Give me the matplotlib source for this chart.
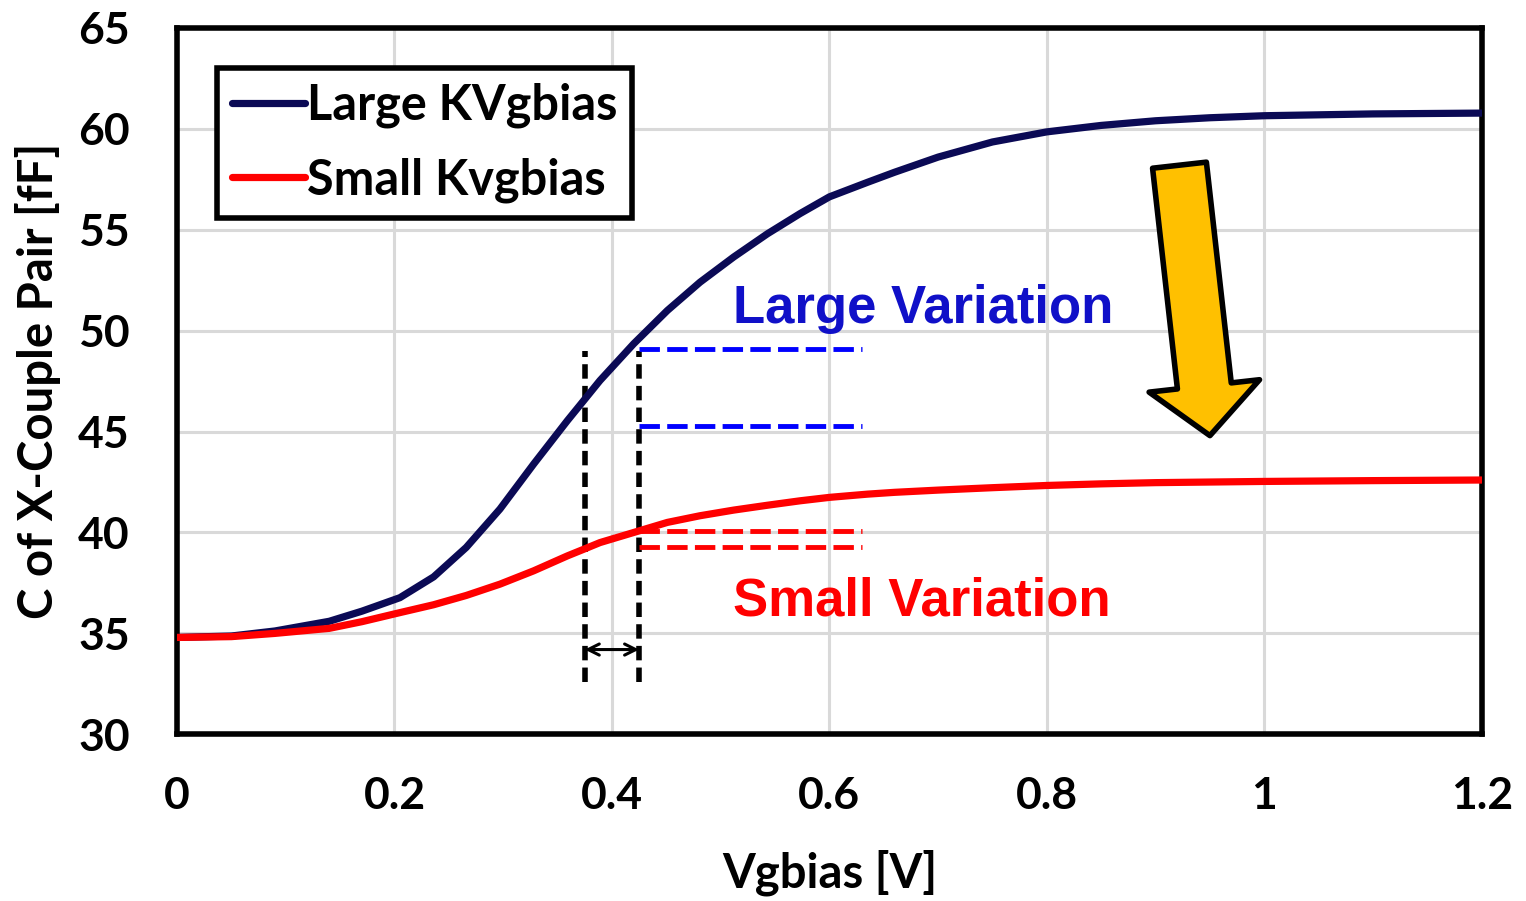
import matplotlib
matplotlib.use('Agg')
import matplotlib.pyplot as plt
from matplotlib.patches import FancyArrowPatch

vg = [0, 0.05, 0.09, 0.14, 0.17, 0.205, 0.236, 0.266, 0.297, 0.328, 0.359, 0.375,
      0.389, 0.42, 0.451, 0.481, 0.512, 0.543, 0.573, 0.6, 0.635, 0.66, 0.7, 0.75,
      0.8, 0.85, 0.9, 0.95, 1.0, 1.1, 1.2]
c_large = [34.8, 34.87, 35.12, 35.6, 36.1, 36.77, 37.8, 39.26, 41.16, 43.39, 45.54, 46.6,
           47.53, 49.35, 51.0, 52.4, 53.65, 54.8, 55.8, 56.63, 57.35, 57.85, 58.6, 59.35,
           59.85, 60.17, 60.4, 60.55, 60.65, 60.74, 60.78]
c_small = [34.8, 34.84, 35.0, 35.25, 35.58, 36.03, 36.42, 36.88, 37.44, 38.1, 38.84, 39.19,
           39.5, 40.0, 40.5, 40.83, 41.11, 41.35, 41.57, 41.74, 41.9, 41.99, 42.1, 42.22,
           42.33, 42.41, 42.47, 42.5, 42.53, 42.57, 42.6]

vb_lo, vb_hi = 0.375, 0.425
blue_levels = [49.1, 45.3]
red_levels = [40.05, 39.3]
span_end = 0.63

fig = plt.figure(figsize=(15.26, 9.01), dpi=100)
ax = fig.add_axes([0.116, 0.185, 0.855, 0.784])

tick_font = dict(family='Lato', weight='bold', size=32)
lab_font = dict(family='Lato', weight='bold', size=34)

ax.plot(vg, c_large, color='#0B0A55', lw=5.2, label='Large KVgbias',
        solid_capstyle='round', solid_joinstyle='round', zorder=4)
ax.plot(vg, c_small, color='#FF0000', lw=5.2, label='Small Kvgbias',
        solid_capstyle='round', solid_joinstyle='round', zorder=4)

# measurement guides
for v in (vb_lo, vb_hi):
    ax.plot([v, v], [32.6, 49.0], color='black', lw=4, dashes=(2.6, 1.3), zorder=3)
for lvl in blue_levels:
    ax.plot([vb_hi, span_end], [lvl, lvl], color='#0000FF', lw=3.5, dashes=(4.2, 1.5), zorder=3)
for lvl in red_levels:
    ax.plot([vb_hi, span_end], [lvl, lvl], color='#FF0000', lw=3.5, dashes=(4.2, 1.5), zorder=3)
ax.annotate('', xy=(vb_hi, 34.2), xytext=(vb_lo, 34.2),
            arrowprops=dict(arrowstyle='<->', color='black', lw=2.2, shrinkA=0, shrinkB=0,
                            mutation_scale=20))

ax.text(0.511, 50.4, 'Large Variation', color='#1010C8', family='Liberation Sans',
        weight='bold', size=38)
ax.text(0.511, 35.9, 'Small Variation', color='#FF0000', family='Liberation Sans',
        weight='bold', size=38)

arrow = FancyArrowPatch((0.922, 58.2), (0.95, 44.8),
                        arrowstyle='simple,head_length=3.6,head_width=8,tail_width=3.9',
                        mutation_scale=10, facecolor='#FFC000', edgecolor='black', lw=4,
                        shrinkA=0, shrinkB=0, zorder=5)
ax.add_patch(arrow)

ax.set_xlim(0, 1.2)
ax.set_ylim(30, 65)
ax.set_xticks([0, 0.2, 0.4, 0.6, 0.8, 1, 1.2])
ax.set_xticklabels(['0', '0.2', '0.4', '0.6', '0.8', '1', '1.2'], fontdict=tick_font)
ax.set_yticks(range(30, 66, 5))
ax.set_yticklabels([str(v) for v in range(30, 66, 5)], fontdict=tick_font)
ax.tick_params(axis='x', length=0, pad=30)
ax.tick_params(axis='y', length=0, pad=34)
ax.grid(color='#D9D9D9', lw=2.2)
ax.set_axisbelow(True)
for s in ax.spines.values():
    s.set_linewidth(4)

ax.set_xlabel('Vgbias [V]', fontdict=lab_font, labelpad=24)
ax.set_ylabel('C of X-Couple Pair [fF]', fontdict=lab_font, labelpad=12)

leg = ax.legend(loc='upper left', bbox_to_anchor=(0.031, 0.943), fancybox=False,
                edgecolor='black', framealpha=1, handlelength=1.5, handletextpad=0.05,
                borderpad=0.3, labelspacing=0.6, borderaxespad=0,
                prop=dict(family='Lato', weight='bold', size=35))
leg.get_frame().set_linewidth(4)

fig.savefig('out.png', dpi=100)
